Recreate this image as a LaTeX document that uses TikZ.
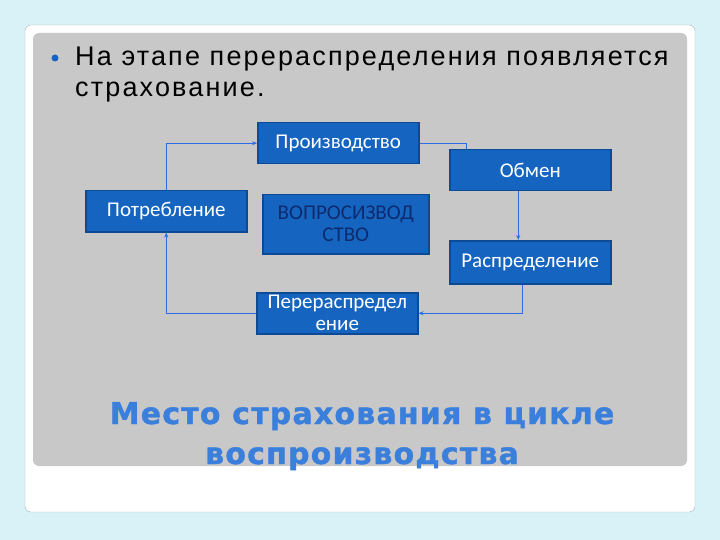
\documentclass[tikz,border=0pt]{standalone}
\usepackage{fontspec}
\setmainfont{Liberation Sans}
\newfontfamily\boxfont{Carlito}
\newfontfamily\headfont[LetterSpace=4,BoldFeatures={FakeBold=1.2}]{DejaVu Sans}
\newfontfamily\bulletfont[LetterSpace=8]{Liberation Sans}
\usetikzlibrary{positioning,arrows.meta}
\definecolor{Sky}{RGB}{216,242,247}
\definecolor{Card}{RGB}{170,180,190}
\definecolor{Panel}{RGB}{200,200,200}
\definecolor{Box}{RGB}{21,101,192}
\definecolor{Edge}{RGB}{12,74,150}
\definecolor{Wire}{RGB}{46,107,230}
\definecolor{Navy}{RGB}{14,42,110}
\definecolor{Title}{RGB}{59,127,220}

\begin{document}
\begin{tikzpicture}[x=1pt,y=-1pt,
 b/.style={draw=Edge,line width=1.5pt,fill=Box,minimum width=161pt,minimum height=41pt,inner sep=1pt,text=white,font=\boxfont\fontsize{21}{22}\selectfont,align=center,anchor=north west},
 a/.style={-{Stealth[length=5pt,width=4pt]},line width=1pt,Wire}]
\useasboundingbox (0,0) rectangle (720,540);
\fill[Sky] (0,0) rectangle (720,540);
\draw[Card,fill=white,rounded corners=6pt] (25,25) rectangle (695,512);
\fill[Panel,rounded corners=6pt] (33,33) rectangle (687,466);
% bullet line
\node[circle,fill=Box,minimum size=7pt,inner sep=0pt] (dot) at (55,58) {};
\node[anchor=base west,align=left,inner sep=0pt,font=\bulletfont\fontsize{27}{31}\selectfont] (head) at (75,97) {На этапе перераспределения появляется\\страхование.};
% cycle
\node[b] (prod) at (257,122) {Производство};
\node[b] (obmen) at (449,149) {Обмен};
\node[b,minimum height=43pt] (raspr) at (449,240) {Распределение};
\node[b] (potr) at (85,190) {Потребление};
\node[b,minimum width=166pt,minimum height=59pt,text=Navy] (vopr) at (262,194) {ВОПРОСИЗВОД\\СТВО};
\node[b] (pere) at (256,292) {Перераспредел\\ение};
\coordinate (k) at (466,149);
\draw[a] (potr.north) |- (prod.west);
\draw[line width=1pt,Wire] (prod.east) -| (k);
\draw[a] ([xshift=-12pt]obmen.south) -- ([xshift=-12pt]raspr.north);
\draw[a] ([xshift=-8pt]raspr.south) |- (pere.east);
\draw[a] (pere.west) -| (potr.south);
% title
\node[anchor=base,font=\headfont\bfseries\fontsize{30}{40}\selectfont,text=Title,align=center] (title) at (362,464) {Место страхования в цикле\\воспроизводства};
\end{tikzpicture}
\end{document}
